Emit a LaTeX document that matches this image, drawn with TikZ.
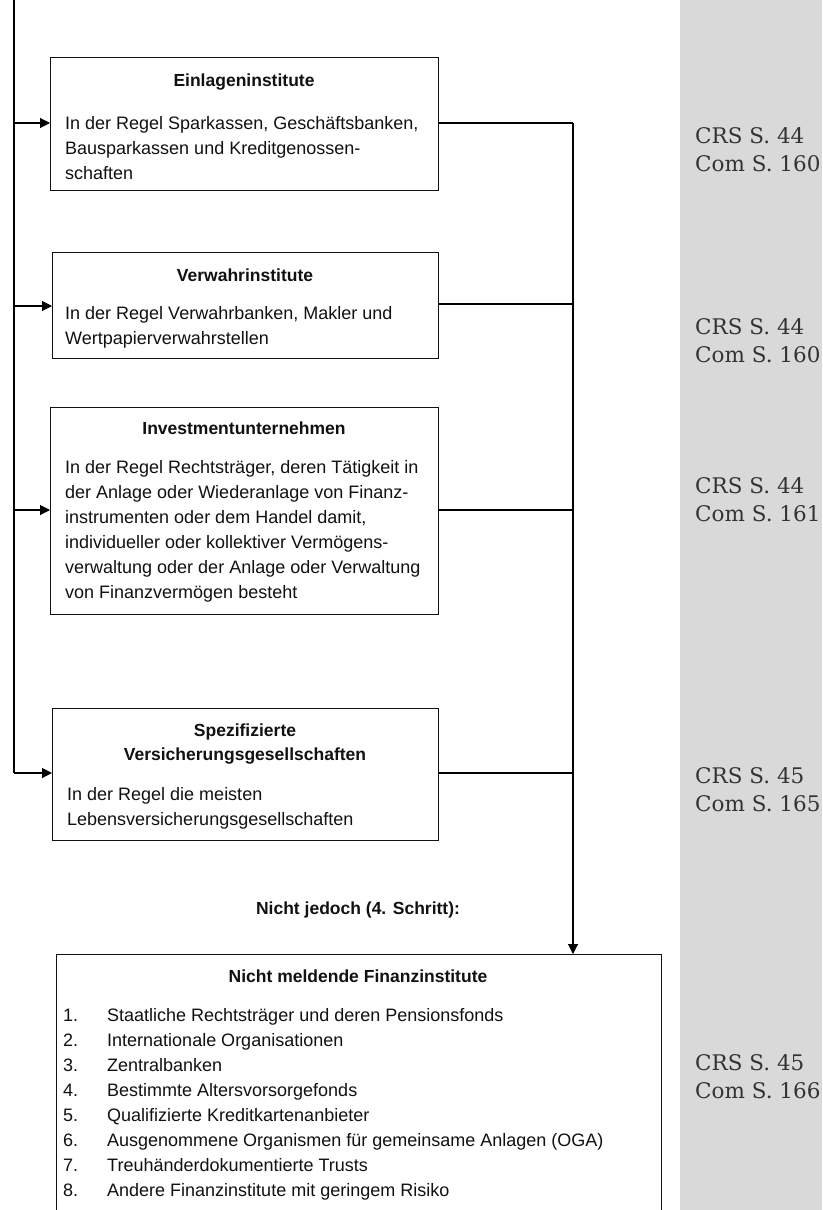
\documentclass[tikz,border=0pt]{standalone}
\usepackage{fontspec}
\setmainfont{Liberation Sans}
\newfontfamily\refserif{DejaVu Serif}
\usetikzlibrary{arrows.meta}
\definecolor{panelgray}{HTML}{D9D9D9}
\definecolor{reftext}{HTML}{333333}
\definecolor{ink}{HTML}{111111}
% multi-line nodes below are anchored at the baseline of their last line
\tikzset{
  box/.style={draw=ink, line width=1.4pt, anchor=north west, inner sep=0pt, fill=white},
  boxtitle/.style={anchor=base, inner sep=0pt, font=\fontsize{17.5}{22}\selectfont\bfseries, text=ink},
  boxbody/.style={anchor=base west, inner sep=0pt, align=left, font=\fontsize{18}{25}\selectfont, text=ink},
  conn/.style={draw=black, line width=1.1pt},
  trunk/.style={draw=black, line width=1.8pt},
  arr/.style={-{Triangle[length=10pt,width=10pt]}},
  refnote/.style={anchor=base west, inner sep=0pt, align=left, font=\refserif\fontsize{21.5}{28}\selectfont, text=reftext},
}
\begin{document}
\begin{tikzpicture}[x=1pt,y=-1pt]
  \useasboundingbox (0,0) rectangle (822,1210);
  \clip (0,0) rectangle (822,1210);
  % grey margin column with the references
  \fill[panelgray] (680,0) rectangle (822,1210);

  % institute boxes
  \node[box, minimum width=388pt, minimum height=133pt] (b1) at (50,57) {};
  \node[box, minimum width=386pt, minimum height=106pt] (b2) at (52,252) {};
  \node[box, minimum width=388pt, minimum height=207pt] (b3) at (50,407) {};
  \node[box, minimum width=386pt, minimum height=132pt] (b4) at (52,708) {};
  \node[box, minimum width=605pt, minimum height=300pt] (b5) at (56,954) {};

  % box texts
  \node[boxtitle] (b1t) at (244,86) {Einlageninstitute};
  \node[boxbody] (b1b) at (65,179) {In der Regel Sparkassen, Geschäftsbanken,\\Bausparkassen und Kreditgenossen-\\schaften};

  \node[boxtitle] (b2t) at (245,281) {Verwahrinstitute};
  \node[boxbody] (b2b) at (65,344) {In der Regel Verwahrbanken, Makler und\\Wertpapierverwahrstellen};

  \node[boxtitle] (b3t) at (244,434) {Investmentunternehmen};
  \node[boxbody] (b3b) at (65,598) {In der Regel Rechtsträger, deren Tätigkeit in\\der Anlage oder Wiederanlage von Finanz-\\instrumenten oder dem Handel damit,\\individueller oder kollektiver Vermögens-\\verwaltung oder der Anlage oder Verwaltung\\von Finanzvermögen besteht};

  \node[boxtitle] (b4t1) at (245,736) {Spezifizierte};
  \node[boxtitle] (b4t2) at (245,760) {Versicherungsgesellschaften};
  \node[boxbody] (b4b) at (67,825) {In der Regel die meisten\\Lebensversicherungsgesellschaften};

  \node[boxtitle] (cond) at (358,914) {Nicht jedoch (4. Schritt):};

  \node[boxtitle] (b5t) at (358,982) {Nicht meldende Finanzinstitute};
  \node[boxbody] (b5n) at (63,1196) {1.\\2.\\3.\\4.\\5.\\6.\\7.\\8.};
  \node[boxbody] (b5b) at (107,1196) {Staatliche Rechtsträger und deren Pensionsfonds\\Internationale Organisationen\\Zentralbanken\\Bestimmte Altersvorsorgefonds\\Qualifizierte Kreditkartenanbieter\\Ausgenommene Organismen für gemeinsame Anlagen (OGA)\\Treuhänderdokumentierte Trusts\\Andere Finanzinstitute mit geringem Risiko};

  % left trunk with the branches into the boxes
  \coordinate (ttop) at (14,0);
  \coordinate (t1) at (14,123);
  \coordinate (t2) at (14,306);
  \coordinate (t3) at (14,510);
  \coordinate (t4) at (14,773);
  \draw[trunk] (ttop) -- (t4);
  \foreach \t/\b in {t1/b1, t2/b2, t3/b3, t4/b4}
    \draw[conn, arr] (\t) -- (\b.west |- \t);

  % right collector leading down to the exceptions
  \coordinate (j1) at (573,123);
  \coordinate (j2) at (573,304);
  \coordinate (j3) at (573,510);
  \coordinate (j4) at (573,773);
  \foreach \j/\b in {j1/b1, j2/b2, j3/b3, j4/b4}
    \draw[conn] (\b.east |- \j) -- (\j);
  \draw[conn, arr] (j1) -- (b5.north -| j1);

  % references
  \node[refnote] (r1) at (695,171) {CRS S. 44\\Com S. 160};
  \node[refnote] (r2) at (695,362) {CRS S. 44\\Com S. 160};
  \node[refnote] (r3) at (695,521) {CRS S. 44\\Com S. 161};
  \node[refnote] (r4) at (695,811) {CRS S. 45\\Com S. 165};
  \node[refnote] (r5) at (695,1098) {CRS S. 45\\Com S. 166};
\end{tikzpicture}
\end{document}
